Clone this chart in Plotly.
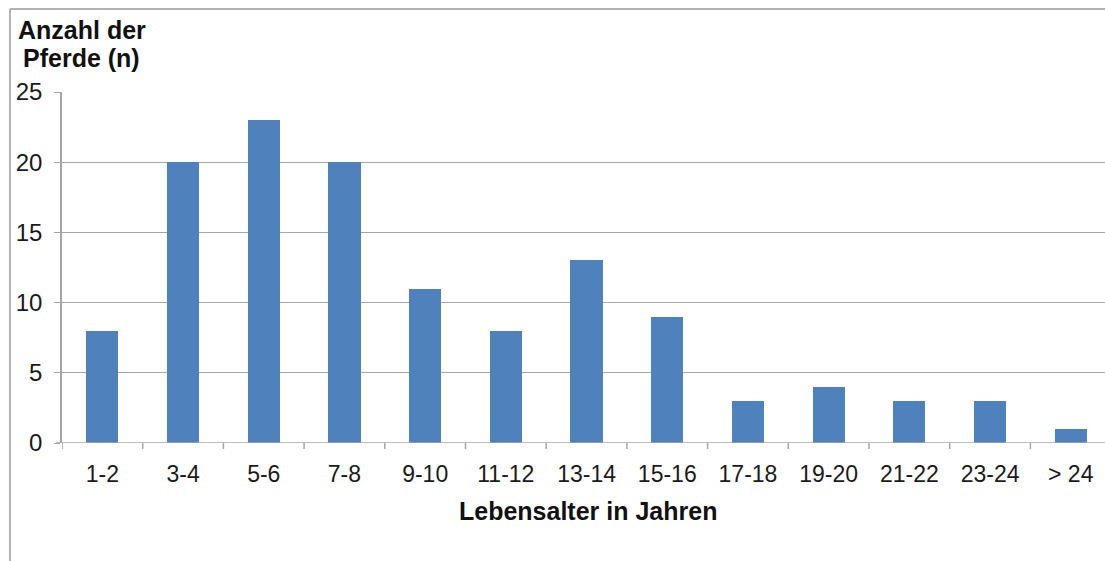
import plotly.graph_objects as go

# Altersgruppen der Pferde und Anzahl je Gruppe
altersgruppen = ["1-2", "3-4", "5-6", "7-8", "9-10", "11-12", "13-14",
                 "15-16", "17-18", "19-20", "21-22", "23-24", "> 24"]
anzahl = [8, 20, 23, 20, 11, 8, 13, 9, 3, 4, 3, 3, 1]
y_ticks = [0, 5, 10, 15, 20, 25]

W, H = 1105, 561
L, R, T, B = 62, 0, 92, 118
plot_w = W - L - R
plot_h = H - T - B
cat_px = 80.7  # Breite einer Kategorie in Pixeln

def px_x(px):
    return (px - L) / plot_w

def px_y(py):
    return (H - B - py) / plot_h

font_fam = "Liberation Sans, Arial, sans-serif"
grid_col = "#a6a6a6"
text_col = "#1a1a1a"

fig = go.Figure()
fig.add_trace(go.Bar(
    x=list(range(len(altersgruppen))),
    y=anzahl,
    width=0.4,
    marker=dict(color="#4f81bd", line=dict(width=0)),
    hoverinfo="skip",
))

fig.update_layout(
    width=W, height=H,
    margin=dict(l=L, r=R, t=T, b=B, pad=0),
    paper_bgcolor="white",
    plot_bgcolor="white",
    showlegend=False,
    bargap=0,
    font=dict(family=font_fam, size=23, color=text_col),
    xaxis=dict(
        range=[-0.5, -0.5 + plot_w / cat_px],
        tickmode="array",
        tickvals=list(range(len(altersgruppen))),
        ticktext=altersgruppen,
        showgrid=False,
        zeroline=False,
        showline=False,
        ticks="",
        ticklabelstandoff=15,
        tickfont=dict(size=23),
        fixedrange=True,
    ),
    yaxis=dict(
        range=[0, 25],
        tickmode="array",
        tickvals=y_ticks,
        showgrid=True,
        gridcolor=grid_col,
        gridwidth=1.2,
        zeroline=False,
        showline=True,
        linecolor=grid_col,
        linewidth=1.5,
        ticks="outside",
        ticklen=6,
        tickcolor=grid_col,
        tickwidth=1.2,
        ticklabelstandoff=7,
        tickfont=dict(size=24),
        fixedrange=True,
    ),
)

# x-Achsenlinie und Teilstriche zwischen den Kategorien
shapes = [dict(type="line", xref="paper", yref="y", x0=px_x(56), x1=1, y0=0, y1=0,
               line=dict(color=grid_col, width=1.5), layer="above")]
for k in range(len(altersgruppen)):
    shapes.append(dict(type="line", xref="x", yref="paper", x0=k - 0.5, x1=k - 0.5,
                       y0=0, y1=px_y(449), line=dict(color=grid_col, width=1.5)))

# Rahmen der Grafik (links und oben)
shapes.append(dict(type="line", xref="paper", yref="paper",
                   x0=px_x(10), x1=px_x(10), y0=px_y(9), y1=px_y(561),
                   line=dict(color="#9a9a9a", width=1.5)))
shapes.append(dict(type="line", xref="paper", yref="paper",
                   x0=px_x(10), x1=px_x(1105), y0=px_y(9), y1=px_y(9),
                   line=dict(color="#9a9a9a", width=1.5)))
fig.update_layout(shapes=shapes)

# Titel der y-Achse, zweizeilig
title_font = dict(size=25, family=font_fam, color="#111111", weight="bold")
fig.add_annotation(
    text="Anzahl der",
    xref="paper", yref="paper", x=px_x(16), y=px_y(30),
    xanchor="left", yanchor="middle", showarrow=False, font=title_font,
)
fig.add_annotation(
    text="Pferde (n)",
    xref="paper", yref="paper", x=px_x(21), y=px_y(58),
    xanchor="left", yanchor="middle", showarrow=False, font=title_font,
)
fig.add_annotation(
    text="<b>Lebensalter in Jahren</b>",
    xref="paper", yref="paper", x=px_x(588), y=px_y(511),
    xanchor="center", yanchor="middle", showarrow=False,
    font=dict(size=25, family=font_fam, color="#111111"),
)

fig.write_html("out.html")
